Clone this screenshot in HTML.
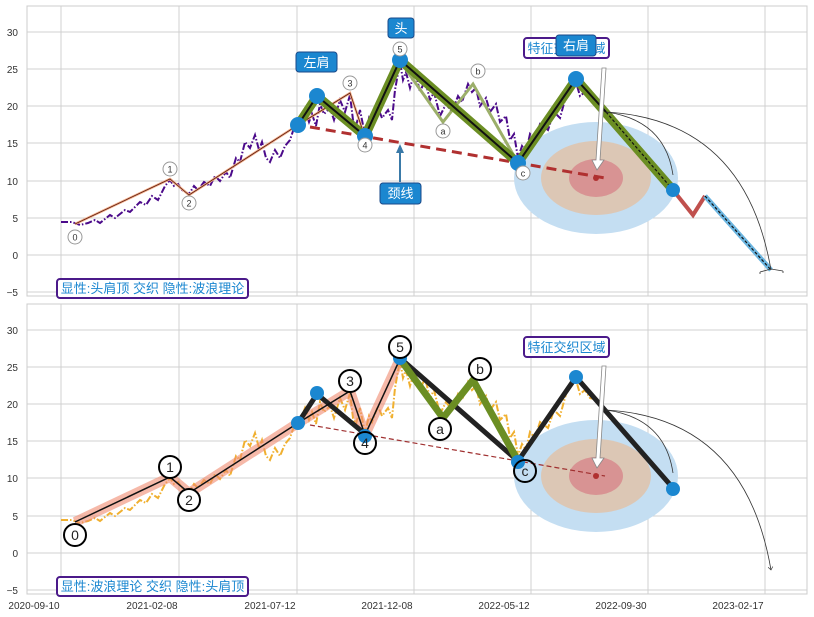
<!DOCTYPE html>
<html><head><meta charset="utf-8"><style>
body{margin:0;background:#fff}
svg{display:block;font-family:"Liberation Sans","Noto Sans CJK SC",sans-serif}
.t{font-size:10px;fill:#333}
.g line{stroke:#d0d0d0;stroke-width:1}
</style></head><body>
<svg width="814" height="617" viewBox="0 0 814 617">
<defs>
<marker id="ah" markerWidth="8" markerHeight="8" refX="4" refY="4" orient="auto"><path d="M0,1 L4,4 L0,7" fill="none" stroke="#333" stroke-width="0.8"/></marker>
<polyline id="px" fill="none" stroke-width="2" stroke-dasharray="7,2,1.5,2" points="61,222 72,222 80,225 88,223 95,220 100,223 110,215 115,218 125,210 130,212 140,202 146,205 152,196 158,200 165,186 170,180 174,186 178,184 182,190 189,194 194,186 198,190 204,182 210,186 215,176 220,181 226,172 230,178 236,158 240,162 245,142 250,148 255,135 259,150 262,142 266,158 270,162 275,150 280,158 285,146 290,140 294,128 298,126 302,118 305,110 309,122 312,114 316,126 320,104 324,114 330,108 334,120 340,100 345,112 350,95 353,120 356,126 360,110 365,135 369,118 372,124 378,108 382,118 388,110 392,120 395,90 400,62 403,80 406,72 410,88 415,70 420,92 425,80 430,100 434,92 440,116 446,104 452,112 458,96 462,102 468,84 472,92 476,88 480,106 486,98 490,112 496,104 500,122 506,116 510,140 514,134 518,158 522,146 526,152 530,134 535,140 540,124 548,130 554,112 560,118 566,96 570,90 576,82 580,96 585,92 590,100 598,102"/>
</defs>
<!-- ===== TOP PANEL ===== -->
<rect x="27" y="6" width="780" height="290" fill="#fff" stroke="#ccc"/>
<g class="g">
<line x1="61" y1="6" x2="61" y2="296"/><line x1="179" y1="6" x2="179" y2="296"/><line x1="297" y1="6" x2="297" y2="296"/><line x1="414" y1="6" x2="414" y2="296"/><line x1="531" y1="6" x2="531" y2="296"/><line x1="648" y1="6" x2="648" y2="296"/><line x1="765" y1="6" x2="765" y2="296"/>
<line x1="27" y1="32" x2="807" y2="32"/><line x1="27" y1="69" x2="807" y2="69"/><line x1="27" y1="106" x2="807" y2="106"/><line x1="27" y1="143" x2="807" y2="143"/><line x1="27" y1="181" x2="807" y2="181"/><line x1="27" y1="218" x2="807" y2="218"/><line x1="27" y1="255" x2="807" y2="255"/><line x1="27" y1="292" x2="807" y2="292"/>
</g>
<g class="t" text-anchor="end">
<text x="18" y="36">30</text><text x="18" y="73">25</text><text x="18" y="110">20</text><text x="18" y="147">15</text><text x="18" y="185">10</text><text x="18" y="222">5</text><text x="18" y="259">0</text><text x="18" y="296">−5</text>
</g>
<ellipse cx="596" cy="178" rx="82" ry="56" fill="#c4def2"/>
<ellipse cx="596" cy="178" rx="55" ry="37" fill="#dcc7b5"/>
<ellipse cx="596" cy="178" rx="27" ry="19" fill="#d89393"/>
<use href="#px" stroke="#4b0a8a"/>
<polyline fill="none" stroke="#f4b08a" stroke-width="2.5" points="75,224 170,179 189,195 298,125 350,93 365,137 400,61"/>
<polyline fill="none" stroke="#5a1a10" stroke-width="0.8" points="75,224 170,179 189,195 298,125 350,93 365,137 400,61"/>
<polyline fill="none" stroke="#9caf6a" stroke-width="3" points="400,61 443,122 473,84 518,163"/>
<line x1="310" y1="127" x2="605" y2="178" stroke="#b03030" stroke-width="3" stroke-dasharray="10,6"/>
<circle cx="596" cy="178" r="3" fill="#b03030"/>
<polyline fill="none" stroke="#6b8e23" stroke-width="9" stroke-linejoin="round" points="298,125 317,96 365,136 400,60 518,163 576,79 673,190"/>
<polyline fill="none" stroke="#111" stroke-width="2" points="298,125 317,96 365,136 400,60 518,163 576,79 606,112"/>
<line x1="606" y1="112" x2="673" y2="190" stroke="#111" stroke-width="1.2" stroke-dasharray="3,2"/>
<polyline fill="none" stroke="#c0504d" stroke-width="4" points="673,190 693,215 705,196"/>
<line x1="705" y1="196" x2="771" y2="270" stroke="#6bb5e0" stroke-width="5"/>
<line x1="705" y1="196" x2="771" y2="270" stroke="#111" stroke-width="1.2" stroke-dasharray="3,2"/>
<path d="M760,272 L771,269 L783,271 M760,272 l0,2 M783,271 l0,2" stroke="#333" fill="none" stroke-width="0.8"/>
<path d="M606,112 Q665,120 673,175" fill="none" stroke="#333" stroke-width="0.8"/>
<path d="M606,112 Q745,120 771,270" fill="none" stroke="#333" stroke-width="0.8"/>
<g fill="#1b87d0">
<circle cx="298" cy="125" r="8"/><circle cx="317" cy="96" r="8"/><circle cx="365" cy="136" r="8"/><circle cx="400" cy="60" r="8"/><circle cx="518" cy="163" r="8"/><circle cx="576" cy="79" r="8"/><circle cx="673" cy="190" r="7"/>
</g>
<g font-size="9" text-anchor="middle" fill="#333">
<circle cx="75" cy="237" r="7" fill="#fff" stroke="#999"/><text x="75" y="240.5">0</text>
<circle cx="170" cy="169" r="7" fill="#fff" stroke="#999"/><text x="170" y="172.5">1</text>
<circle cx="189" cy="203" r="7" fill="#fff" stroke="#999"/><text x="189" y="206.5">2</text>
<circle cx="350" cy="83" r="7" fill="#fff" stroke="#999"/><text x="350" y="86.5">3</text>
<circle cx="365" cy="145" r="7" fill="#fff" stroke="#999"/><text x="365" y="148.5">4</text>
<circle cx="400" cy="49" r="7" fill="#fff" stroke="#999"/><text x="400" y="52.5">5</text>
<circle cx="443" cy="131" r="7" fill="#fff" stroke="#999"/><text x="443" y="134.5">a</text>
<circle cx="478" cy="71" r="7" fill="#fff" stroke="#999"/><text x="478" y="74.5">b</text>
<circle cx="523" cy="173" r="7" fill="#fff" stroke="#999"/><text x="523" y="176.5">c</text>
</g>
<path d="M602,68 L606,68 L600,160 L604,160 L597,170 L592,160 L596,160 Z" fill="#fff" stroke="#888" stroke-width="0.8"/>
<line x1="400" y1="182" x2="400" y2="150" stroke="#3a7aa8" stroke-width="2"/>
<path d="M396,153 L400,144 L404,153 Z" fill="#3a7aa8"/>
<rect x="524" y="38" width="85" height="20" rx="3" fill="#fff" stroke="#4b1a8a" stroke-width="2"/>
<text x="566.5" y="53" font-size="13" fill="#1b87d0" text-anchor="middle">特征交织区域</text>
<rect x="296" y="52" width="41" height="20" rx="3" fill="#1b87d0" stroke="#1a4a8a"/>
<text x="316.5" y="67" font-size="13" fill="#fff" text-anchor="middle">左肩</text>
<rect x="388" y="18" width="26" height="20" rx="3" fill="#1b87d0" stroke="#1a4a8a"/>
<text x="401" y="33" font-size="13" fill="#fff" text-anchor="middle">头</text>
<rect x="556" y="35" width="40" height="21" rx="3" fill="#1b87d0" stroke="#1a4a8a"/>
<text x="576" y="50" font-size="13" fill="#fff" text-anchor="middle">右肩</text>
<rect x="380" y="183" width="41" height="21" rx="3" fill="#1b87d0" stroke="#1a4a8a"/>
<text x="400.5" y="198" font-size="13" fill="#fff" text-anchor="middle">颈线</text>
<rect x="57" y="279" width="191" height="19" rx="3" fill="#fff" stroke="#4b1a8a" stroke-width="2"/>
<text x="152.5" y="293" font-size="13" fill="#1b87d0" text-anchor="middle">显性:头肩顶 交织 隐性:波浪理论</text>

<!-- ===== BOTTOM PANEL ===== -->
<rect x="27" y="304" width="780" height="290" fill="none" stroke="#ccc"/>
<g class="g">
<line x1="61" y1="304" x2="61" y2="594"/><line x1="179" y1="304" x2="179" y2="594"/><line x1="297" y1="304" x2="297" y2="594"/><line x1="414" y1="304" x2="414" y2="594"/><line x1="531" y1="304" x2="531" y2="594"/><line x1="648" y1="304" x2="648" y2="594"/><line x1="765" y1="304" x2="765" y2="594"/>
<line x1="27" y1="330" x2="807" y2="330"/><line x1="27" y1="367" x2="807" y2="367"/><line x1="27" y1="404" x2="807" y2="404"/><line x1="27" y1="441" x2="807" y2="441"/><line x1="27" y1="478" x2="807" y2="478"/><line x1="27" y1="516" x2="807" y2="516"/><line x1="27" y1="553" x2="807" y2="553"/><line x1="27" y1="590" x2="807" y2="590"/>
</g>
<g class="t" text-anchor="end">
<text x="18" y="334">30</text><text x="18" y="371">25</text><text x="18" y="408">20</text><text x="18" y="445">15</text><text x="18" y="482">10</text><text x="18" y="520">5</text><text x="18" y="557">0</text><text x="18" y="594">−5</text>
</g>
<g class="t" text-anchor="middle">
<text x="34" y="609">2020-09-10</text><text x="152" y="609">2021-02-08</text><text x="270" y="609">2021-07-12</text><text x="387" y="609">2021-12-08</text><text x="504" y="609">2022-05-12</text><text x="621" y="609">2022-09-30</text><text x="738" y="609">2023-02-17</text>
</g>
<ellipse cx="596" cy="476" rx="82" ry="56" fill="#c4def2"/>
<ellipse cx="596" cy="476" rx="55" ry="37" fill="#dcc7b5"/>
<ellipse cx="596" cy="476" rx="27" ry="19" fill="#d89393"/>
<use href="#px" stroke="#f0b030" transform="translate(0,298)"/>
<polyline fill="none" stroke="#f08a70" stroke-opacity="0.6" stroke-width="10" stroke-linejoin="round" points="75,522 170,477 189,493 298,423 350,391 365,435 400,359"/>
<line x1="310" y1="425" x2="605" y2="476" stroke="#a03030" stroke-width="1.2" stroke-dasharray="5,3"/>
<circle cx="596" cy="476" r="3" fill="#b03030"/>
<polyline fill="none" stroke="#222" stroke-width="5" stroke-linejoin="round" points="298,423 317,394 365,434"/>
<polyline fill="none" stroke="#222" stroke-width="5" stroke-linejoin="round" points="400,358 518,461 576,377 673,488"/>
<polyline fill="none" stroke="#6b8e23" stroke-width="7" stroke-linejoin="round" points="400,359 443,418 473,380 518,461"/>
<polyline fill="none" stroke="#111" stroke-width="1.5" points="75,522 170,477 189,493 298,423 350,391 365,435 400,359"/>
<path d="M606,410 Q665,418 673,473" fill="none" stroke="#333" stroke-width="0.8"/>
<path d="M606,410 Q745,418 771,570" fill="none" stroke="#333" stroke-width="0.8" marker-end="url(#ah)"/>
<g fill="#1b87d0">
<circle cx="298" cy="423" r="7"/><circle cx="317" cy="393" r="7"/><circle cx="365" cy="436" r="7"/><circle cx="400" cy="358" r="7"/><circle cx="518" cy="462" r="7"/><circle cx="576" cy="377" r="7"/><circle cx="673" cy="489" r="7"/>
</g>
<g font-size="14" text-anchor="middle" fill="#222">
<circle cx="75" cy="535" r="11" fill="#fff" stroke="#000" stroke-width="2"/><text x="75" y="540">0</text>
<circle cx="170" cy="467" r="11" fill="#fff" stroke="#000" stroke-width="2"/><text x="170" y="472">1</text>
<circle cx="189" cy="500" r="11" fill="#fff" stroke="#000" stroke-width="2"/><text x="189" y="505">2</text>
<circle cx="350" cy="381" r="11" fill="#fff" stroke="#000" stroke-width="2"/><text x="350" y="386">3</text>
<circle cx="365" cy="443" r="11" fill="none" stroke="#000" stroke-width="2"/><text x="365" y="448">4</text>
<circle cx="400" cy="347" r="11" fill="#fff" stroke="#000" stroke-width="2"/><text x="400" y="352">5</text>
<circle cx="440" cy="429" r="11" fill="#fff" stroke="#000" stroke-width="2"/><text x="440" y="434">a</text>
<circle cx="480" cy="369" r="11" fill="#fff" stroke="#000" stroke-width="2"/><text x="480" y="374">b</text>
<circle cx="525" cy="471" r="11" fill="none" stroke="#000" stroke-width="2"/><text x="525" y="476">c</text>
</g>
<path d="M602,366 L606,366 L600,458 L604,458 L597,468 L592,458 L596,458 Z" fill="#fff" stroke="#888" stroke-width="0.8"/>
<rect x="524" y="337" width="85" height="20" rx="3" fill="#fff" stroke="#4b1a8a" stroke-width="2"/>
<text x="566.5" y="352" font-size="13" fill="#1b87d0" text-anchor="middle">特征交织区域</text>
<rect x="57" y="577" width="191" height="19" rx="3" fill="#fff" stroke="#4b1a8a" stroke-width="2"/>
<text x="152.5" y="591" font-size="13" fill="#1b87d0" text-anchor="middle">显性:波浪理论 交织 隐性:头肩顶</text>
</svg>
</body></html>
